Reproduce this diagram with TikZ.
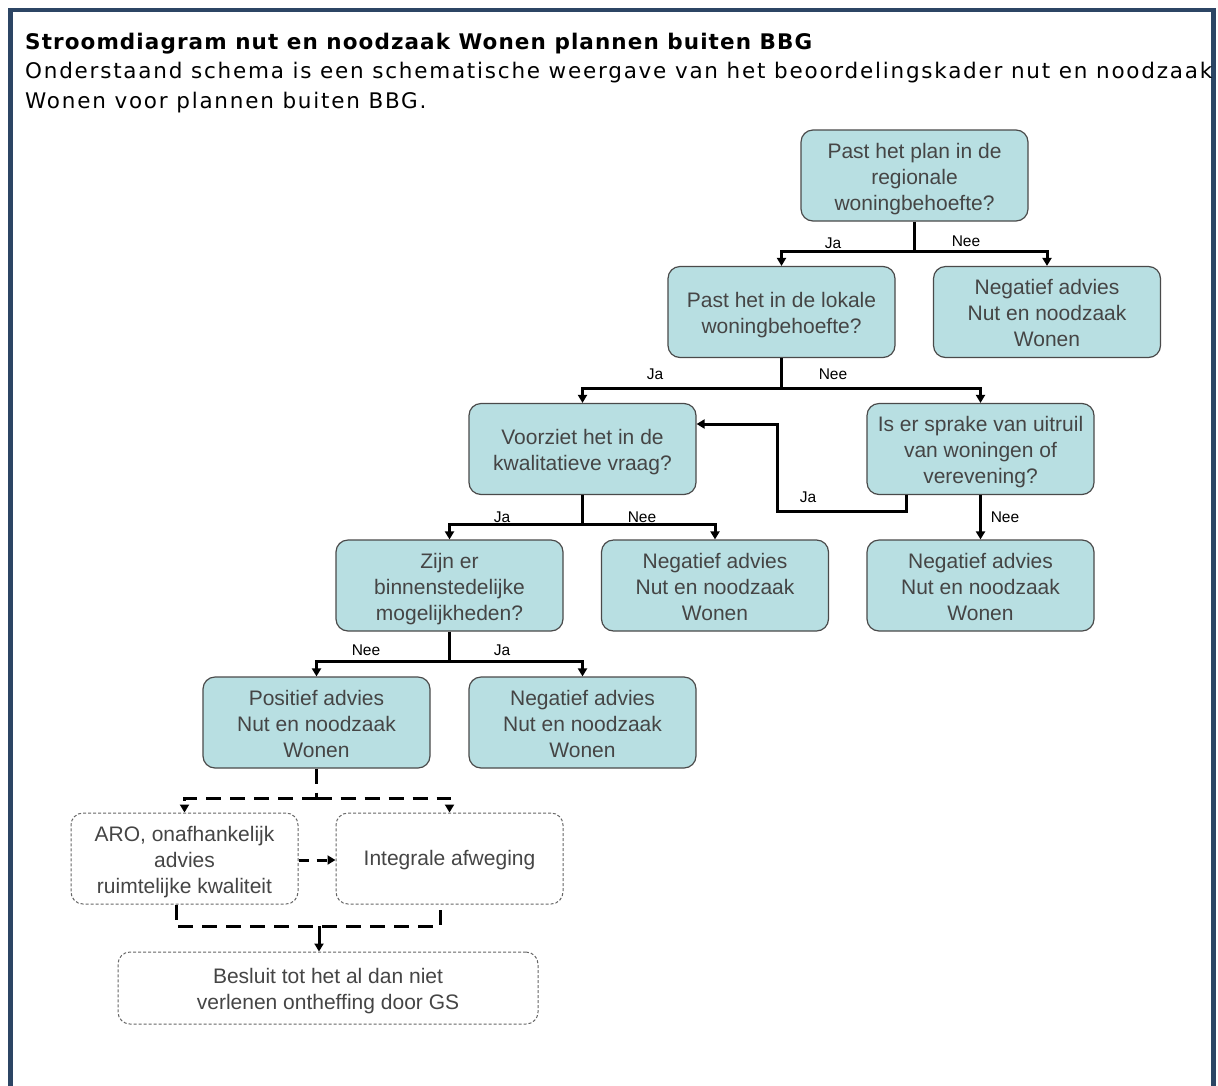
\documentclass[tikz,border=0pt]{standalone}
\usepackage{fontspec}
\setmainfont{Liberation Sans}
\newfontfamily\boxfont{Liberation Sans}
\newfontfamily\titlefont[LetterSpace=8.25]{DejaVu Sans}
\newfontfamily\titlebold[LetterSpace=5.05]{DejaVu Sans}
\usetikzlibrary{arrows.meta,positioning}
\newcommand\tp{\rule{0pt}{22.5pt}}
\definecolor{framecol}{HTML}{2C4564}
\definecolor{boxfill}{HTML}{B8DFE2}
\definecolor{boxline}{HTML}{4A4A4A}
\definecolor{boxtext}{HTML}{454545}
\tikzset{
  box/.style={draw=boxline, fill=boxfill, rounded corners=12pt, line width=1.2pt,
    minimum width=227pt, minimum height=91pt, inner sep=0pt, align=center,
    text=boxtext, font=\boxfont\fontsize{21}{26}\selectfont,
    execute at end node={\rule[-5pt]{0pt}{5pt}}},
  dbox/.style={box, fill=white, draw=gray!80!black, line width=1pt, dash pattern=on 3pt off 2pt},
  conn/.style={line width=3pt, black},
  dconn/.style={conn, dash pattern=on 15pt off 9pt},
  tip/.style={-{Triangle[width=9pt,length=8pt]}},
  lbl/.style={font=\fontsize{15.5}{15.5}\selectfont, inner sep=0pt, text=black},
  ttl/.style={anchor=base west, inner sep=0pt}
}
\begin{document}
\begin{tikzpicture}[x=1pt,y=-1pt]
\useasboundingbox (0,0) rectangle (1218,1085);
\fill[white] (0,0) rectangle (1218,1085);
\draw[framecol, line width=4.5pt] (10.5,1090) -- (10.5,10) -- (1213.5,10) -- (1213.5,1090);
% title
\node[ttl, font=\titlebold\fontsize{21.5}{21.5}\selectfont\bfseries] (t1) at (25,49) {Stroomdiagram nut en noodzaak Wonen plannen buiten BBG};
\node[ttl, font=\titlefont\fontsize{21.5}{21.5}\selectfont] (t2) at (25,78.5) {Onderstaand schema is een schematische weergave van het beoordelingskader nut en noodzaak};
\node[ttl, font=\titlefont\fontsize{21.5}{21.5}\selectfont] (t3) at (25,108) {Wonen voor plannen buiten BBG.};
% nodes
\node[box] (n1) at (914.5,175.5) {\tp Past het plan in de\\regionale\\woningbehoefte?};
\node[box] (n2) at (781.5,312) {\tp Past het in de lokale\\woningbehoefte?};
\node[box] (n3) at (1047,312) {\tp Negatief advies\\Nut en noodzaak\\Wonen};
\node[box] (n4) at (582.5,449) {\tp Voorziet het in de\\kwalitatieve vraag?};
\node[box] (n5) at (980.5,449) {\tp Is er sprake van uitruil\\van woningen of\\verevening?};
\node[box] (n6) at (449.5,585.5) {\tp Zijn er\\binnenstedelijke\\mogelijkheden?};
\node[box] (n7) at (715,585.5) {\tp Negatief advies\\Nut en noodzaak\\Wonen};
\node[box] (n8) at (980.5,585.5) {\tp Negatief advies\\Nut en noodzaak\\Wonen};
\node[box] (n9) at (316.5,722.5) {\tp Positief advies\\Nut en noodzaak\\Wonen};
\node[box] (n10) at (582.5,722.5) {\tp Negatief advies\\Nut en noodzaak\\Wonen};
\node[dbox] (n11) at (184.5,858.5) {\tp ARO, onafhankelijk\\advies\\ruimtelijke kwaliteit};
\node[dbox] (n12) at (449.5,858.5) {\rule{0pt}{19pt}Integrale afweging};
\node[dbox, minimum width=420pt, minimum height=72pt] (n13) at (328,988) {\tp Besluit tot het al dan niet\\verlenen ontheffing door GS};
% junction coordinates
\coordinate (j1) at (914.5,251);
\coordinate (j2) at (781.5,388);
\coordinate (j4) at (582.5,524);
\coordinate (j6) at (449.5,661);
\coordinate (j9) at (316.5,798);
\coordinate (jb) at (319,926);
% connectors
\draw[conn] (n1.south) -- (j1);
\draw[conn,tip] (j1) -| (n2.north);
\draw[conn,tip] (j1) -| (n3.north);
\draw[conn] (n2.south) -- (j2);
\draw[conn,tip] (j2) -| (n4.north);
\draw[conn,tip] (j2) -| (n5.north);
\draw[conn,tip] ([xshift=-74.5pt]n5.south) |- (777,511) |- (n4.east |- 0,424);
\draw[conn,tip] (n5.south) -- (n8.north);
\draw[conn] (n4.south) -- (j4);
\draw[conn,tip] (j4) -| (n6.north);
\draw[conn,tip] (j4) -| (n7.north);
\draw[conn] (n6.south) -- (j6);
\draw[conn,tip] (j6) -| (n9.north);
\draw[conn,tip] (j6) -| (n10.north);
\draw[dconn] (n9.south) -- (j9);
\draw[dconn,tip] (j9) -| (n11.north);
\draw[dconn,tip] (j9) -| (n12.north);
\draw[conn,dash pattern=on 10pt off 8pt,-{Triangle[width=9pt,length=8pt]}] (n11.east |- 0,860) -- (n12.west |- 0,860);
\draw[dconn] ([xshift=-8.5pt]n11.south) -- ++(0,22) -| ([xshift=-9.5pt]n12.south);
\draw[conn,tip] (jb) -- (jb |- n13.north);
% labels
\node[lbl] (l1) at (833,243) {Ja};
\node[lbl] (l2) at (966,241) {Nee};
\node[lbl] (l3) at (655,374) {Ja};
\node[lbl] (l4) at (833,374) {Nee};
\node[lbl] (l5) at (808,497) {Ja};
\node[lbl] (l6) at (1005,517) {Nee};
\node[lbl] (l7) at (502,517) {Ja};
\node[lbl] (l8) at (642,517) {Nee};
\node[lbl] (l9) at (366,650) {Nee};
\node[lbl] (l10) at (502,650) {Ja};
\end{tikzpicture}
\end{document}
